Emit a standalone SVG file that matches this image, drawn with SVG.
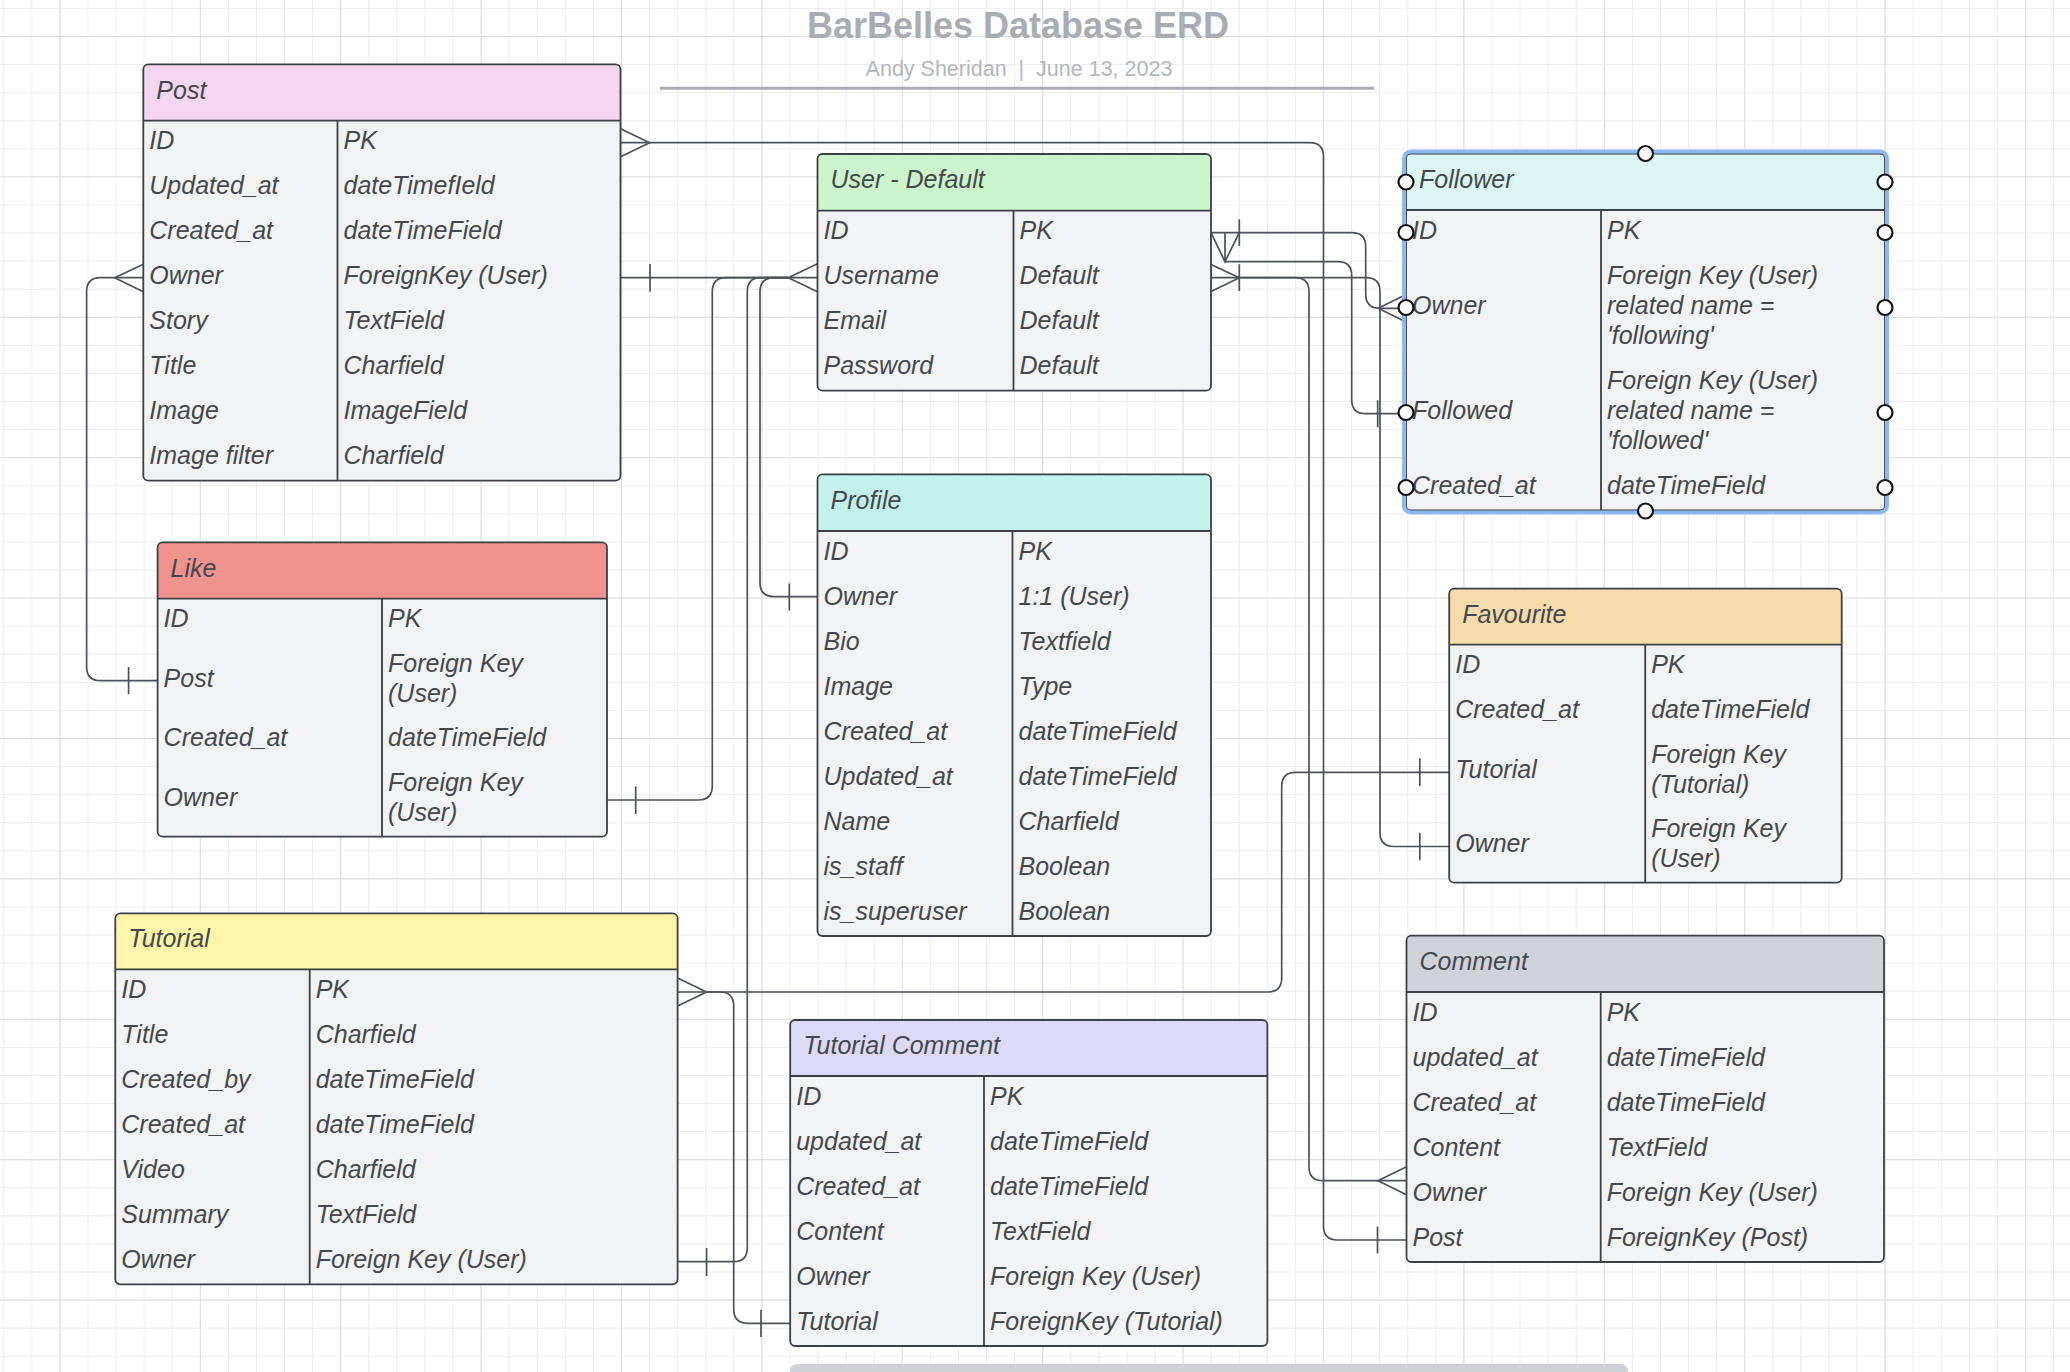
<svg xmlns="http://www.w3.org/2000/svg" width="2070" height="1372" viewBox="0 0 2070 1372">
<defs>
<pattern id="gmin" x="59.4" y="36" width="28.08" height="28.08" patternUnits="userSpaceOnUse"><path d="M0.5 0V28.08M0 0.5H28.08" fill="none" stroke="#ededed" stroke-width="1"/></pattern>
<pattern id="gmaj" x="59.4" y="36" width="140.4" height="140.4" patternUnits="userSpaceOnUse"><path d="M0.5 0V140.4M0 0.5H140.4" fill="none" stroke="#dfdfdf" stroke-width="1"/></pattern>
<style>
.box{fill:#f2f3f5}
.out{fill:none;stroke:#3c4047;stroke-width:1.8}
.dv{fill:none;stroke:#3c4047;stroke-width:1.8}
.t{font-family:"Liberation Sans",Arial,sans-serif;font-style:italic;font-size:25px;fill:#44484e}
.c{fill:none;stroke:#4d525a;stroke-width:1.7}
.hd{fill:#fff;stroke:#111;stroke-width:2.2}
</style>
</defs>
<rect width="2070" height="1372" fill="#ffffff"/>
<rect width="2070" height="1372" fill="url(#gmin)"/>
<rect width="2070" height="1372" fill="url(#gmaj)"/>

<g id="title">
<text x="1018" y="37.5" text-anchor="middle" font-family="Liberation Sans, Arial, sans-serif" font-weight="bold" font-size="36" fill="#a9adb3">BarBelles Database ERD</text>
<text x="1019" y="76" text-anchor="middle" font-family="Liberation Sans, Arial, sans-serif" font-size="21.5" fill="#b3b7bd" xml:space="preserve">Andy Sheridan  |  June 13, 2023</text>
<line x1="660" y1="88.3" x2="1374" y2="88.3" stroke="#a9adb3" stroke-width="3"/>
</g>

<g id="connectors">
<!-- Post ID -> Comment Post -->
<path class="c" d="M620.5 142.7H1309.5Q1323.5 142.7 1323.5 156.7V1226Q1323.5 1240 1337.5 1240H1406.5"/>
<path class="c" d="M620.5 128.7L649.6 142.7L620.5 156.7M1377.5 1226.5V1253.5"/>
<!-- Post Owner -> User Username -->
<path class="c" d="M620.5 277.7H817.5"/>
<path class="c" d="M650 264V291.5M817.5 263.7L788.3 277.7L817.5 291.7"/>
<!-- Like Owner -> User -->
<path class="c" d="M607 800H698.3Q712.3 800 712.3 786V291.7Q712.3 277.7 726.3 277.7H788.3"/>
<path class="c" d="M635.7 786.5V814"/>
<!-- Profile Owner -> User -->
<path class="c" d="M817.5 596.7H774Q760 596.7 760 582.7V291.7Q760 277.7 774 277.7H788.3"/>
<path class="c" d="M789.3 583.5V610.5"/>
<!-- Tutorial Owner -> User -->
<path class="c" d="M677.6 1261.7H733.3Q747.3 1261.7 747.3 1247.7V291.7Q747.3 277.7 761.3 277.7H788.3"/>
<path class="c" d="M706.6 1248V1276"/>
<!-- Post Owner (left) -> Like Post -->
<path class="c" d="M143.3 277.7H100.6Q86.6 277.7 86.6 291.7V666.7Q86.6 680.7 100.6 680.7H157.6"/>
<path class="c" d="M143.3 264.2L114.7 277.7L143.3 291.7M128.6 667V694.3"/>
<!-- Tutorial ID -> Tutorial Comment Tutorial -->
<path class="c" d="M677.6 992H719.7Q733.7 992 733.7 1006V1309.3Q733.7 1323.3 747.7 1323.3H790.2"/>
<path class="c" d="M677.6 978L706.6 992L677.6 1006M761 1309.8V1337"/>
<!-- Tutorial ID -> Favourite Tutorial -->
<path class="c" d="M706.6 992H1267.7Q1281.7 992 1281.7 978V786.3Q1281.7 772.3 1295.7 772.3H1449.2"/>
<path class="c" d="M1419.8 758.3V786"/>
<!-- User ID -> Follower Owner -->
<path class="c" d="M1211 232.7H1351.7Q1365.7 232.7 1365.7 246.7V294.3Q1365.7 308.3 1379.7 308.3H1406"/>
<path class="c" d="M1239.3 219.3V246M1406 294.5L1378.3 308.3L1406 322"/>
<!-- User ID -> Follower Followed -->
<path class="c" d="M1225 261.7H1337.7Q1351.7 261.7 1351.7 275.7V399.7Q1351.7 413.7 1365.7 413.7H1406"/>
<path class="c" d="M1211 232.7L1225 261.7L1239.3 232.7M1225 232.7V261.7M1377.7 400.3V427.3"/>
<!-- User Username -> Comment Owner -->
<path class="c" d="M1211 277.7H1295Q1309 277.7 1309 291.7V1166.7Q1309 1180.7 1323 1180.7H1406.5"/>
<path class="c" d="M1211 264.5L1239.3 277.7L1211 291.5M1239.3 264.3V291M1406.5 1166.7L1378 1180.7L1406.5 1194.7"/>
<!-- User Username -> Favourite Owner -->
<path class="c" d="M1239.3 277.7H1366Q1380 277.7 1380 291.7V832.5Q1380 846.5 1394 846.5H1449.2"/>
<path class="c" d="M1419.8 833V860.3"/>
</g>

<g id="post">
<rect class="box" x="143.3" y="64.3" width="477.2" height="416.4" rx="5"/>
<path fill="#f6d6f0" d="M143.3 120.7V69.3Q143.3 64.3 148.3 64.3H615.5Q620.5 64.3 620.5 69.3V120.7Z"/>
<path class="dv" d="M143.3 120.7H620.5M337.5 120.7V480.7"/>
<rect class="out" x="143.3" y="64.3" width="477.2" height="416.4" rx="5"/>
<text class="t" x="156.3" y="98.5">Post</text>
<text class="t" x="149.3" y="149.2">ID</text><text class="t" x="343.5" y="149.2">PK</text>
<text class="t" x="149.3" y="194.2">Updated_at</text><text class="t" x="343.5" y="194.2">dateTimefIeld</text>
<text class="t" x="149.3" y="239.2">Created_at</text><text class="t" x="343.5" y="239.2">dateTimeField</text>
<text class="t" x="149.3" y="284.2">Owner</text><text class="t" x="343.5" y="284.2">ForeignKey (User)</text>
<text class="t" x="149.3" y="329.2">Story</text><text class="t" x="343.5" y="329.2">TextField</text>
<text class="t" x="149.3" y="374.2">Title</text><text class="t" x="343.5" y="374.2">Charfield</text>
<text class="t" x="149.3" y="419.2">Image</text><text class="t" x="343.5" y="419.2">ImageField</text>
<text class="t" x="149.3" y="464.2">Image filter</text><text class="t" x="343.5" y="464.2">Charfield</text>
</g>

<g id="user">
<rect class="box" x="817.5" y="154" width="393.5" height="236.7" rx="5"/>
<path fill="#cdf5cc" d="M817.5 210.7V159Q817.5 154 822.5 154H1206Q1211 154 1211 159V210.7Z"/>
<path class="dv" d="M817.5 210.7H1211M1013.5 210.7V390.7"/>
<rect class="out" x="817.5" y="154" width="393.5" height="236.7" rx="5"/>
<text class="t" x="830.5" y="188.4">User - Default</text>
<text class="t" x="823.5" y="239.2">ID</text><text class="t" x="1019.5" y="239.2">PK</text>
<text class="t" x="823.5" y="284.2">Username</text><text class="t" x="1019.5" y="284.2">Default</text>
<text class="t" x="823.5" y="329.2">Email</text><text class="t" x="1019.5" y="329.2">Default</text>
<text class="t" x="823.5" y="374.2">Password</text><text class="t" x="1019.5" y="374.2">Default</text>
</g>

<g id="profile">
<rect class="box" x="817.5" y="474.3" width="393.5" height="461.7" rx="5"/>
<path fill="#c3f1eb" d="M817.5 531V479.3Q817.5 474.3 822.5 474.3H1206Q1211 474.3 1211 479.3V531Z"/>
<path class="dv" d="M817.5 531H1211M1012.5 531V936"/>
<rect class="out" x="817.5" y="474.3" width="393.5" height="461.7" rx="5"/>
<text class="t" x="830.5" y="508.7">Profile</text>
<text class="t" x="823.5" y="559.5">ID</text><text class="t" x="1018.5" y="559.5">PK</text>
<text class="t" x="823.5" y="604.5">Owner</text><text class="t" x="1018.5" y="604.5">1:1 (User)</text>
<text class="t" x="823.5" y="649.5">Bio</text><text class="t" x="1018.5" y="649.5">Textfield</text>
<text class="t" x="823.5" y="694.5">Image</text><text class="t" x="1018.5" y="694.5">Type</text>
<text class="t" x="823.5" y="739.5">Created_at</text><text class="t" x="1018.5" y="739.5">dateTimeField</text>
<text class="t" x="823.5" y="784.5">Updated_at</text><text class="t" x="1018.5" y="784.5">dateTimeField</text>
<text class="t" x="823.5" y="829.5">Name</text><text class="t" x="1018.5" y="829.5">Charfield</text>
<text class="t" x="823.5" y="874.5">is_staff</text><text class="t" x="1018.5" y="874.5">Boolean</text>
<text class="t" x="823.5" y="919.5">is_superuser</text><text class="t" x="1018.5" y="919.5">Boolean</text>
</g>

<g id="follower">
<rect class="box" x="1406" y="153.5" width="479" height="357" rx="5"/>
<path fill="#dcf7f3" d="M1406 210V158.5Q1406 153.5 1411 153.5H1880Q1885 153.5 1885 158.5V210Z"/>
<path class="dv" d="M1406 210H1885M1601 210V510.5"/>
<rect class="out" x="1406" y="153.5" width="479" height="357" rx="5"/>
<text class="t" x="1419" y="187.8">Follower</text>
<text class="t" x="1412" y="238.5">ID</text><text class="t" x="1607" y="238.5">PK</text>
<text class="t" x="1412" y="313.5">Owner</text>
<text class="t" x="1607" y="283.5">Foreign Key (User)</text>
<text class="t" x="1607" y="313.5">related name =</text>
<text class="t" x="1607" y="343.5">'following'</text>
<text class="t" x="1412" y="418.5">Followed</text>
<text class="t" x="1607" y="388.5">Foreign Key (User)</text>
<text class="t" x="1607" y="418.5">related name =</text>
<text class="t" x="1607" y="448.5">'followed'</text>
<text class="t" x="1412" y="493.8">Created_at</text><text class="t" x="1607" y="493.8">dateTimeField</text>
<rect x="1404" y="151.5" width="483" height="361" rx="7" fill="none" stroke="#8db9f3" stroke-width="4"/>
<circle class="hd" cx="1645.5" cy="153.5" r="7.5"/>
<circle class="hd" cx="1645.5" cy="511" r="7.5"/>
<circle class="hd" cx="1406" cy="182" r="7.5"/>
<circle class="hd" cx="1406" cy="232.5" r="7.5"/>
<circle class="hd" cx="1406" cy="307.5" r="7.5"/>
<circle class="hd" cx="1406" cy="412.5" r="7.5"/>
<circle class="hd" cx="1406" cy="487.5" r="7.5"/>
<circle class="hd" cx="1885" cy="182" r="7.5"/>
<circle class="hd" cx="1885" cy="232.5" r="7.5"/>
<circle class="hd" cx="1885" cy="307.5" r="7.5"/>
<circle class="hd" cx="1885" cy="412.5" r="7.5"/>
<circle class="hd" cx="1885" cy="487.5" r="7.5"/>
</g>

<g id="like">
<rect class="box" x="157.6" y="542.3" width="449.4" height="294.4" rx="5"/>
<path fill="#f0938f" d="M157.6 598.7V547.3Q157.6 542.3 162.6 542.3H602Q607 542.3 607 547.3V598.7Z"/>
<path class="dv" d="M157.6 598.7H607M382 598.7V836.7"/>
<rect class="out" x="157.6" y="542.3" width="449.4" height="294.4" rx="5"/>
<text class="t" x="170.6" y="576.5">Like</text>
<text class="t" x="163.6" y="627.2">ID</text><text class="t" x="388" y="627.2">PK</text>
<text class="t" x="163.6" y="686.7">Post</text><text class="t" x="388" y="671.7">Foreign Key</text><text class="t" x="388" y="701.7">(User)</text>
<text class="t" x="163.6" y="746.2">Created_at</text><text class="t" x="388" y="746.2">dateTimeField</text>
<text class="t" x="163.6" y="805.7">Owner</text><text class="t" x="388" y="790.7">Foreign Key</text><text class="t" x="388" y="820.7">(User)</text>
</g>

<g id="favourite">
<rect class="box" x="1449.2" y="588.7" width="392.5" height="294" rx="5"/>
<path fill="#f7dcab" d="M1449.2 644.7V593.7Q1449.2 588.7 1454.2 588.7H1836.7Q1841.7 588.7 1841.7 593.7V644.7Z"/>
<path class="dv" d="M1449.2 644.7H1841.7M1645.2 644.7V882.7"/>
<rect class="out" x="1449.2" y="588.7" width="392.5" height="294" rx="5"/>
<text class="t" x="1462.2" y="622.7">Favourite</text>
<text class="t" x="1455.2" y="673.2">ID</text><text class="t" x="1651.2" y="673.2">PK</text>
<text class="t" x="1455.2" y="718.2">Created_at</text><text class="t" x="1651.2" y="718.2">dateTimeField</text>
<text class="t" x="1455.2" y="777.7">Tutorial</text><text class="t" x="1651.2" y="762.7">Foreign Key</text><text class="t" x="1651.2" y="792.7">(Tutorial)</text>
<text class="t" x="1455.2" y="851.7">Owner</text><text class="t" x="1651.2" y="836.7">Foreign Key</text><text class="t" x="1651.2" y="866.7">(User)</text>
</g>

<g id="tutorial">
<rect class="box" x="115.3" y="913.3" width="562.3" height="371" rx="5"/>
<path fill="#fff5a9" d="M115.3 969.3V918.3Q115.3 913.3 120.3 913.3H672.6Q677.6 913.3 677.6 918.3V969.3Z"/>
<path class="dv" d="M115.3 969.3H677.6M309.7 969.3V1284.3"/>
<rect class="out" x="115.3" y="913.3" width="562.3" height="371" rx="5"/>
<text class="t" x="128.3" y="947.3">Tutorial</text>
<text class="t" x="121.3" y="997.8">ID</text><text class="t" x="315.7" y="997.8">PK</text>
<text class="t" x="121.3" y="1042.8">Title</text><text class="t" x="315.7" y="1042.8">Charfield</text>
<text class="t" x="121.3" y="1087.8">Created_by</text><text class="t" x="315.7" y="1087.8">dateTimeField</text>
<text class="t" x="121.3" y="1132.8">Created_at</text><text class="t" x="315.7" y="1132.8">dateTimeField</text>
<text class="t" x="121.3" y="1177.8">Video</text><text class="t" x="315.7" y="1177.8">Charfield</text>
<text class="t" x="121.3" y="1222.8">Summary</text><text class="t" x="315.7" y="1222.8">TextField</text>
<text class="t" x="121.3" y="1267.8">Owner</text><text class="t" x="315.7" y="1267.8">Foreign Key (User)</text>
</g>

<g id="tutorial-comment">
<rect class="box" x="790.2" y="1020" width="477.2" height="326" rx="5"/>
<path fill="#dcdaf8" d="M790.2 1076V1025Q790.2 1020 795.2 1020H1262.4Q1267.4 1020 1267.4 1025V1076Z"/>
<path class="dv" d="M790.2 1076H1267.4M984 1076V1346"/>
<rect class="out" x="790.2" y="1020" width="477.2" height="326" rx="5"/>
<text class="t" x="803.2" y="1054">Tutorial Comment</text>
<text class="t" x="796.2" y="1104.5">ID</text><text class="t" x="990" y="1104.5">PK</text>
<text class="t" x="796.2" y="1149.5">updated_at</text><text class="t" x="990" y="1149.5">dateTimeField</text>
<text class="t" x="796.2" y="1194.5">Created_at</text><text class="t" x="990" y="1194.5">dateTimeField</text>
<text class="t" x="796.2" y="1239.5">Content</text><text class="t" x="990" y="1239.5">TextField</text>
<text class="t" x="796.2" y="1284.5">Owner</text><text class="t" x="990" y="1284.5">Foreign Key (User)</text>
<text class="t" x="796.2" y="1329.5">Tutorial</text><text class="t" x="990" y="1329.5">ForeignKey (Tutorial)</text>
</g>

<g id="comment">
<rect class="box" x="1406.5" y="935.7" width="477.5" height="326.3" rx="5"/>
<path fill="#cfd3d9" d="M1406.5 992V940.7Q1406.5 935.7 1411.5 935.7H1879Q1884 935.7 1884 940.7V992Z"/>
<path class="dv" d="M1406.5 992H1884M1600.7 992V1262"/>
<rect class="out" x="1406.5" y="935.7" width="477.5" height="326.3" rx="5"/>
<text class="t" x="1419.5" y="969.9">Comment</text>
<text class="t" x="1412.5" y="1020.5">ID</text><text class="t" x="1606.7" y="1020.5">PK</text>
<text class="t" x="1412.5" y="1065.5">updated_at</text><text class="t" x="1606.7" y="1065.5">dateTimeField</text>
<text class="t" x="1412.5" y="1110.5">Created_at</text><text class="t" x="1606.7" y="1110.5">dateTimeField</text>
<text class="t" x="1412.5" y="1155.5">Content</text><text class="t" x="1606.7" y="1155.5">TextField</text>
<text class="t" x="1412.5" y="1200.5">Owner</text><text class="t" x="1606.7" y="1200.5">Foreign Key (User)</text>
<text class="t" x="1412.5" y="1245.5">Post</text><text class="t" x="1606.7" y="1245.5">ForeignKey (Post)</text>
</g>

<rect id="scrollbar" x="790" y="1364" width="838" height="14" rx="7" fill="#cfd1d5"/>
</svg>
